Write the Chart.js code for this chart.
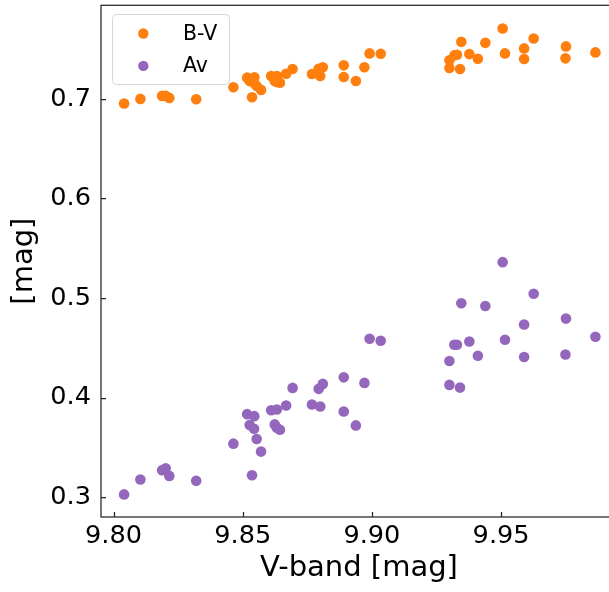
<!DOCTYPE html>
<html lang="en">
<head>
<meta charset="UTF-8">
<title>V-band vs B-V / Av</title>
<script src="https://cdn.jsdelivr.net/npm/chart.js"></script>
<style>
    html, body { margin: 0; padding: 0; background: #fff; overflow: hidden; }
    #quadro { width: 609px; height: 592px; overflow: hidden; }
</style>
</head>
<body>
<div id="quadro"><canvas id="grafico" width="640" height="592"></canvas></div>
<script>
    // V-band magnitude of each observation (shared by both series)
    const vBand = [
        9.8041, 9.8104, 9.8188, 9.8202, 9.8216, 9.8320, 9.8464, 9.8517,
        9.8545, 9.8527, 9.8544, 9.8554, 9.8571, 9.8536, 9.8610, 9.8632,
        9.8624, 9.8632, 9.8644, 9.8668, 9.8693, 9.8768, 9.8794, 9.8810,
        9.8800, 9.8891, 9.8891, 9.8938, 9.8971, 9.8991, 9.9034, 9.9300,
        9.9300, 9.9319, 9.9329, 9.9341, 9.9346, 9.9377, 9.9410, 9.9439,
        9.9506, 9.9515, 9.9589, 9.9589, 9.9626, 9.9751, 9.9749, 9.9865
    ];
    const bvValues = [
        0.6953, 0.7000, 0.7030, 0.7030, 0.7010, 0.6997, 0.7117, 0.7213,
        0.7217, 0.7180, 0.7160, 0.7130, 0.7090, 0.7017, 0.7230, 0.7230,
        0.7180, 0.7170, 0.7163, 0.7253, 0.7300, 0.7250, 0.7303, 0.7317,
        0.7230, 0.7337, 0.7220, 0.7180, 0.7317, 0.7457, 0.7453, 0.7310,
        0.7387, 0.7437, 0.7443, 0.7300, 0.7573, 0.7450, 0.7403, 0.7563,
        0.7707, 0.7457, 0.7507, 0.7400, 0.7607, 0.7527, 0.7407, 0.7467
    ];
    const avValues = [
        0.3027, 0.3177, 0.3270, 0.3290, 0.3213, 0.3163, 0.3537, 0.3833,
        0.3813, 0.3723, 0.3687, 0.3583, 0.3457, 0.3220, 0.3873, 0.3880,
        0.3730, 0.3697, 0.3677, 0.3920, 0.4097, 0.3930, 0.4087, 0.4137,
        0.3910, 0.4203, 0.3860, 0.3720, 0.4147, 0.4590, 0.4570, 0.4367,
        0.4127, 0.4530, 0.4530, 0.4100, 0.4947, 0.4563, 0.4420, 0.4920,
        0.5360, 0.4580, 0.4733, 0.4407, 0.5043, 0.4793, 0.4433, 0.4610
    ];

    const seriesNames = ['B-V', 'Av'];
    const seriesColors = ['#ff7f0e', '#9467bd'];
    const xTicks = [9.80, 9.85, 9.90, 9.95];
    const yTicks = [0.3, 0.4, 0.5, 0.6, 0.7];

    const FONTE = 'DejaVu Sans';

    function pontos(ys) {
        return vBand.map((v, i) => ({ x: v, y: ys[i] }));
    }

    // frame + inward ticks, matplotlib style
    const moldura = {
        id: 'moldura',
        afterDatasetsDraw(chart) {
            const { ctx, chartArea: a, scales } = chart;
            ctx.save();
            ctx.strokeStyle = '#262626';
            ctx.lineWidth = 1.25;
            ctx.strokeRect(a.left, a.top, a.right - a.left, a.bottom - a.top);
            ctx.beginPath();
            xTicks.forEach(t => {
                const px = Math.round(scales.x.getPixelForValue(t)) + 0.5;
                ctx.moveTo(px, a.bottom);
                ctx.lineTo(px, a.bottom - 5);
            });
            yTicks.forEach(t => {
                const py = Math.round(scales.y.getPixelForValue(t)) + 0.5;
                ctx.moveTo(a.left, py);
                ctx.lineTo(a.left + 5, py);
            });
            ctx.stroke();
            ctx.restore();
        }
    };

    // legend box in the upper left corner
    const legenda = {
        id: 'legenda',
        afterDraw(chart) {
            const ctx = chart.ctx;
            const x0 = 112, y0 = 14, w = 117, h = 70;
            ctx.save();
            ctx.beginPath();
            ctx.roundRect(x0 + 0.5, y0 + 0.5, w, h, 4);
            ctx.fillStyle = 'rgba(255,255,255,0.8)';
            ctx.fill();
            ctx.strokeStyle = '#d6d6d6';
            ctx.lineWidth = 1;
            ctx.stroke();
            ctx.font = '20.5px "' + FONTE + '"';
            ctx.textBaseline = 'middle';
            chart.data.datasets.forEach((ds, i) => {
                const cy = 33.5 + i * 32.4;
                ctx.beginPath();
                ctx.arc(143.3, cy, 5.2, 0, Math.PI * 2);
                ctx.fillStyle = ds.backgroundColor;
                ctx.fill();
                ctx.fillStyle = '#000';
                ctx.fillText(ds.label, 183, cy + 1);
            });
            ctx.restore();
        }
    };

    new Chart(document.getElementById('grafico'), {
        type: 'scatter',
        data: {
            datasets: [
                {
                    label: seriesNames[0],
                    data: pontos(bvValues),
                    backgroundColor: seriesColors[0],
                    borderWidth: 0,
                    pointRadius: 5.3
                },
                {
                    label: seriesNames[1],
                    data: pontos(avValues),
                    backgroundColor: seriesColors[1],
                    borderWidth: 0,
                    pointRadius: 5.3
                }
            ]
        },
        options: {
            responsive: false,
            animation: false,
            // canvas is wider than the window: the right spine falls outside like in the original
            layout: { padding: { left: 0, right: 23, top: 3, bottom: 0 } },
            plugins: {
                legend: { display: false },
                tooltip: { enabled: false }
            },
            scales: {
                x: {
                    type: 'linear',
                    min: 9.79516,
                    max: 9.99485,
                    afterBuildTicks: s => { s.ticks = xTicks.map(v => ({ value: v })); },
                    afterFit: s => {
                        s.height = 75;
                        s.paddingLeft = 0;
                        s.paddingRight = 0;
                    },
                    grid: { display: false, drawTicks: false },
                    border: { display: false },
                    ticks: {
                        padding: 4,
                        color: '#000',
                        font: { family: FONTE, size: 25.6 },
                        callback: v => v.toFixed(2)
                    },
                    title: {
                        display: true,
                        text: 'V-band [mag]',
                        color: '#000',
                        font: { family: FONTE, size: 29 },
                        padding: { top: 0, bottom: 6 }
                    }
                },
                y: {
                    type: 'linear',
                    min: 0.280,
                    max: 0.794,
                    afterBuildTicks: s => { s.ticks = yTicks.map(v => ({ value: v })); },
                    afterFit: s => {
                        s.width = 101;
                        s.paddingTop = 0;
                        s.paddingBottom = 0;
                    },
                    grid: { display: false, drawTicks: false },
                    border: { display: false },
                    ticks: {
                        padding: 10,
                        color: '#000',
                        font: { family: FONTE, size: 25.6 },
                        callback: v => v.toFixed(1)
                    },
                    title: {
                        display: true,
                        text: '[mag]',
                        color: '#000',
                        font: { family: FONTE, size: 29 },
                        padding: { top: 7, bottom: 0 }
                    }
                }
            }
        },
        plugins: [moldura, legenda]
    });
</script>
</body>
</html>
